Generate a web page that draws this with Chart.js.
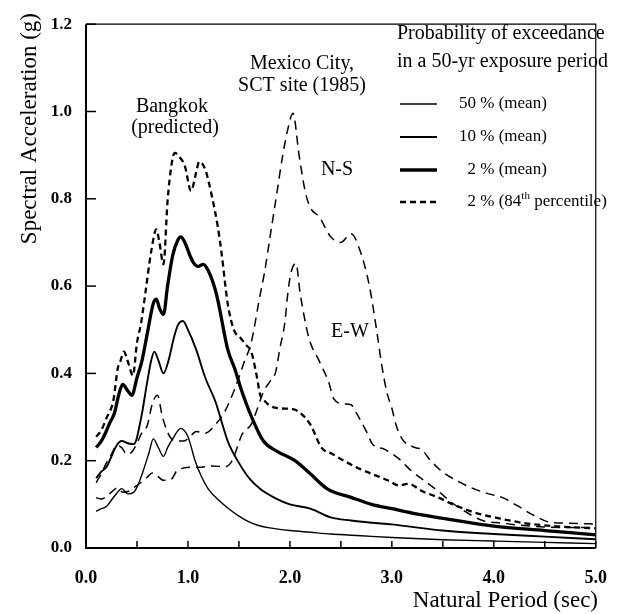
<!DOCTYPE html>
<html>
<head>
<meta charset="utf-8">
<script src="https://cdn.jsdelivr.net/npm/chart.js@4"></script>
<style>
    html, body { margin: 0; padding: 0; background: #fff; }
</style>
</head>
<body>
<canvas id="spectraChart" width="627" height="614"></canvas>
<script>
// Bangkok (predicted), probability of exceedance in 50 yr
const bkk50Period = [0.1, 0.15, 0.2, 0.25, 0.3, 0.35, 0.41, 0.47, 0.52, 0.57, 0.62, 0.66, 0.71, 0.76, 0.8, 0.85, 0.93, 1.0, 1.07, 1.13, 1.2, 1.3, 1.4, 1.5, 1.6, 1.7, 1.8, 2.0, 2.2, 2.4, 2.7, 3.0, 3.5, 4.0, 4.5, 5.0];
const bkk50Sa = [0.084, 0.09, 0.095, 0.11, 0.125, 0.136, 0.124, 0.128, 0.15, 0.183, 0.22, 0.25, 0.23, 0.21, 0.23, 0.25, 0.274, 0.255, 0.2, 0.165, 0.135, 0.11, 0.09, 0.073, 0.06, 0.051, 0.046, 0.04, 0.036, 0.032, 0.028, 0.024, 0.019, 0.016, 0.013, 0.01];

const bkk10Period = [0.1, 0.15, 0.2, 0.25, 0.3, 0.35, 0.41, 0.47, 0.54, 0.6, 0.64, 0.67, 0.71, 0.76, 0.81, 0.86, 0.9, 0.95, 1.0, 1.08, 1.17, 1.27, 1.39, 1.5, 1.6, 1.71, 1.85, 2.0, 2.2, 2.4, 2.6, 2.8, 3.0, 3.5, 4.0, 4.5, 5.0];
const bkk10Sa = [0.16, 0.175, 0.185, 0.21, 0.235, 0.245, 0.24, 0.238, 0.297, 0.38, 0.43, 0.45, 0.43, 0.40, 0.43, 0.48, 0.51, 0.52, 0.5, 0.455, 0.39, 0.335, 0.245, 0.195, 0.16, 0.135, 0.115, 0.10, 0.09, 0.07, 0.063, 0.058, 0.054, 0.04, 0.032, 0.026, 0.02];

const bkk2Period = [0.1, 0.15, 0.19, 0.23, 0.28, 0.32, 0.36, 0.41, 0.45, 0.5, 0.55, 0.6, 0.66, 0.69, 0.72, 0.76, 0.8, 0.85, 0.9, 0.93, 0.97, 1.02, 1.05, 1.1, 1.15, 1.2, 1.27, 1.3, 1.39, 1.46, 1.52, 1.63, 1.74, 1.87, 2.05, 2.2, 2.37, 2.6, 2.8, 3.0, 3.2, 3.5, 4.0, 4.5, 5.0];
const bkk2Sa = [0.23, 0.245, 0.263, 0.285, 0.31, 0.35, 0.375, 0.36, 0.35, 0.39, 0.43, 0.49, 0.56, 0.57, 0.55, 0.535, 0.6, 0.67, 0.705, 0.713, 0.7, 0.67, 0.655, 0.645, 0.65, 0.635, 0.59, 0.56, 0.455, 0.41, 0.365, 0.297, 0.245, 0.222, 0.2, 0.17, 0.135, 0.116, 0.1, 0.09, 0.08, 0.068, 0.05, 0.04, 0.03];

const bkk2p84Period = [0.1, 0.15, 0.2, 0.27, 0.31, 0.34, 0.37, 0.42, 0.46, 0.5, 0.54, 0.58, 0.64, 0.69, 0.72, 0.76, 0.8, 0.84, 0.87, 0.92, 0.97, 1.03, 1.08, 1.11, 1.17, 1.24, 1.29, 1.33, 1.39, 1.45, 1.52, 1.57, 1.62, 1.67, 1.71, 1.76, 1.81, 1.9, 2.03, 2.1, 2.2, 2.31, 2.42, 2.53, 2.65, 2.78, 2.97, 3.07, 3.16, 3.3, 3.45, 3.65, 3.83, 4.05, 4.3, 4.6, 5.0];
const bkk2p84Sa = [0.255, 0.27, 0.297, 0.34, 0.41, 0.43, 0.45, 0.42, 0.395, 0.47, 0.515, 0.58, 0.68, 0.73, 0.7, 0.65, 0.795, 0.88, 0.905, 0.895, 0.875, 0.818, 0.86, 0.885, 0.867, 0.8, 0.74, 0.675, 0.56, 0.5, 0.48, 0.465, 0.45, 0.4, 0.35, 0.335, 0.325, 0.32, 0.318, 0.31, 0.283, 0.23, 0.215, 0.2, 0.185, 0.172, 0.154, 0.143, 0.147, 0.13, 0.116, 0.095, 0.08, 0.068, 0.057, 0.05, 0.045];

// Mexico City, SCT site (1985)
const mexNSPeriod = [0.1, 0.15, 0.2, 0.25, 0.3, 0.35, 0.4, 0.45, 0.5, 0.55, 0.6, 0.65, 0.7, 0.75, 0.82, 0.9, 0.96, 1.02, 1.08, 1.17, 1.27, 1.36, 1.46, 1.55, 1.62, 1.7, 1.75, 1.81, 1.87, 1.93, 1.98, 2.03, 2.09, 2.15, 2.2, 2.29, 2.4, 2.5, 2.6, 2.69, 2.78, 2.85, 2.9, 2.95, 3.0, 3.04, 3.1, 3.23, 3.29, 3.38, 3.51, 3.64, 3.8, 3.95, 4.08, 4.23, 4.39, 4.55, 4.71, 5.0];
const mexNSSa = [0.15, 0.17, 0.195, 0.215, 0.235, 0.23, 0.215, 0.22, 0.24, 0.265, 0.28, 0.33, 0.35, 0.3, 0.256, 0.245, 0.245, 0.255, 0.267, 0.263, 0.283, 0.312, 0.365, 0.425, 0.47, 0.57, 0.63, 0.72, 0.81, 0.9, 0.96, 0.996, 0.9, 0.817, 0.78, 0.758, 0.713, 0.70, 0.72, 0.68, 0.6, 0.5, 0.42, 0.358, 0.32, 0.283, 0.25, 0.23, 0.226, 0.2, 0.172, 0.154, 0.136, 0.124, 0.116, 0.097, 0.075, 0.059, 0.057, 0.055];

const mexEWPeriod = [0.1, 0.15, 0.2, 0.25, 0.31, 0.36, 0.42, 0.48, 0.54, 0.6, 0.65, 0.7, 0.76, 0.84, 0.89, 0.95, 1.02, 1.1, 1.24, 1.36, 1.42, 1.46, 1.53, 1.62, 1.67, 1.74, 1.8, 1.86, 1.9, 1.95, 1.98, 2.01, 2.06, 2.1, 2.19, 2.28, 2.38, 2.43, 2.53, 2.6, 2.66, 2.75, 2.81, 2.93, 3.07, 3.19, 3.32, 3.45, 3.6, 3.73, 3.89, 4.08, 4.27, 4.5, 4.75, 5.0];
const mexEWSa = [0.115, 0.112, 0.118, 0.128, 0.138, 0.128, 0.13, 0.14, 0.15, 0.162, 0.172, 0.165, 0.155, 0.158, 0.177, 0.183, 0.185, 0.185, 0.188, 0.186, 0.195, 0.215, 0.26, 0.283, 0.312, 0.358, 0.38, 0.403, 0.455, 0.516, 0.584, 0.63, 0.652, 0.584, 0.478, 0.432, 0.38, 0.342, 0.33, 0.328, 0.306, 0.267, 0.238, 0.226, 0.204, 0.177, 0.154, 0.131, 0.102, 0.082, 0.063, 0.057, 0.052, 0.048, 0.047, 0.047];

// axes
const xTickValues = [0, 0.5, 1, 1.5, 2, 2.5, 3, 3.5, 4, 4.5, 5];
const xTickLabels = ['0.0', '', '1.0', '', '2.0', '', '3.0', '', '4.0', '', '5.0'];
const yTickValues = [0, 0.2, 0.4, 0.6, 0.8, 1.0, 1.2];
const yTickLabels = ['0.0', '0.2', '0.4', '0.6', '0.8', '1.0', '1.2'];

const legendTitle = ['Probability of exceedance', 'in a 50-yr exposure period'];
const legendLabels = ['50 % (mean)', '10 % (mean)', '2 % (mean)', '2 % (84th percentile)'];

const serif = "'Liberation Serif', 'Times New Roman', serif";
Chart.defaults.font.family = serif;
Chart.defaults.color = '#000';

function toPoints(periods, values) {
    return periods.map((t, i) => ({ x: t, y: values[i] }));
}

function line(label, periods, values, width, dash) {
    return {
        label: label,
        data: toPoints(periods, values),
        borderColor: '#000',
        backgroundColor: '#000',
        borderWidth: width,
        borderDash: dash,
        pointRadius: 0,
        fill: false,
        cubicInterpolationMode: 'monotone'
    };
}

// ticks inside the box, frame, notes and legend
const decorations = {
    id: 'decorations',
    afterDraw(chart) {
        const ctx = chart.ctx;
        const area = chart.chartArea;
        const xs = chart.scales.x;
        const ys = chart.scales.y;
        ctx.save();
        ctx.strokeStyle = '#000';

        // frame
        ctx.lineWidth = 1.2;
        ctx.beginPath();
        ctx.moveTo(area.left, area.top);
        ctx.lineTo(area.right, area.top);
        ctx.lineTo(area.right, area.bottom);
        ctx.stroke();
        ctx.lineWidth = 2;
        ctx.beginPath();
        ctx.moveTo(area.left, area.top);
        ctx.lineTo(area.left, area.bottom);
        ctx.lineTo(area.right, area.bottom);
        ctx.stroke();

        // inward tick marks
        ctx.lineWidth = 1.5;
        xTickValues.forEach(v => {
            const px = xs.getPixelForValue(v);
            ctx.beginPath();
            ctx.moveTo(px, area.bottom);
            ctx.lineTo(px, area.bottom - 7);
            ctx.stroke();
        });
        yTickValues.forEach(v => {
            const py = ys.getPixelForValue(v);
            ctx.beginPath();
            ctx.moveTo(area.left, py);
            ctx.lineTo(area.left + 10, py);
            ctx.stroke();
        });

        ctx.fillStyle = '#000';
        ctx.textBaseline = 'middle';

        // axis titles
        ctx.font = '23px ' + serif;
        ctx.textAlign = 'right';
        ctx.fillText('Natural Period (sec)', 598, 601);
        ctx.save();
        ctx.translate(30, 13);
        ctx.rotate(-Math.PI / 2);
        ctx.fillText('Spectral Acceleration (g)', 0, 0);
        ctx.restore();

        // curve notes
        ctx.font = '20px ' + serif;
        ctx.textAlign = 'center';
        ctx.fillText('Bangkok', 172, 107);
        ctx.fillText('(predicted)', 175, 128);
        ctx.fillText('Mexico City,', 302, 64);
        ctx.fillText('SCT site (1985)', 302, 86);
        ctx.fillText('N-S', 337, 170);
        ctx.fillText('E-W', 350, 332);

        // legend
        ctx.textAlign = 'left';
        ctx.font = '20px ' + serif;
        ctx.fillText(legendTitle[0], 397, 34);
        ctx.fillText(legendTitle[1], 397, 62);

        const rowY = [104, 137, 170, 202];
        ctx.font = '17px ' + serif;
        chart.data.datasets.slice(0, 4).forEach((ds, i) => {
            const y = rowY[i];
            ctx.lineWidth = ds.borderWidth;
            ctx.setLineDash(ds.borderDash || []);
            ctx.beginPath();
            ctx.moveTo(400, y);
            ctx.lineTo(437, y);
            ctx.stroke();
            ctx.setLineDash([]);

            const label = legendLabels[i];
            const num = label.split(' ')[0];
            let x = 476 - ctx.measureText(num).width;
            const sup = label.indexOf('th');
            if (sup > 0) {
                const a = label.slice(0, sup);
                const b = label.slice(sup + 2);
                ctx.fillText(a, x, y);
                x += ctx.measureText(a).width;
                ctx.font = '11px ' + serif;
                ctx.fillText('th', x, y - 6);
                x += ctx.measureText('th').width;
                ctx.font = '17px ' + serif;
                ctx.fillText(b, x, y);
            } else {
                ctx.fillText(label, x, y);
            }
        });
        ctx.restore();
    }
};

const chartElement = new Chart(document.getElementById('spectraChart'), {
    type: 'line',
    data: {
        datasets: [
            line('50 % (mean)', bkk50Period, bkk50Sa, 1.4, []),
            line('10 % (mean)', bkk10Period, bkk10Sa, 1.9, []),
            line('2 % (mean)', bkk2Period, bkk2Sa, 3.3, []),
            line('2 % (84th percentile)', bkk2p84Period, bkk2p84Sa, 2.3, [6, 4]),
            line('Mexico City N-S', mexNSPeriod, mexNSSa, 1.5, [9, 6]),
            line('Mexico City E-W', mexEWPeriod, mexEWSa, 1.5, [9, 6])
        ]
    },
    options: {
        responsive: false,
        animation: false,
        layout: { padding: { top: 18, right: 13, left: 0, bottom: 0 } },
        plugins: {
            legend: { display: false },
            tooltip: { enabled: false }
        },
        scales: {
            x: {
                type: 'linear',
                min: 0,
                max: 5,
                afterFit: s => { s.height = 66; },
                afterBuildTicks: s => { s.ticks = xTickValues.map(v => ({ value: v })); },
                grid: { display: false, drawTicks: false },
                border: { display: false },
                ticks: {
                    autoSkip: false,
                    maxRotation: 0,
                    padding: 20,
                    font: { size: 18, weight: 'bold' },
                    callback: (v, i) => xTickLabels[i]
                }
            },
            y: {
                type: 'linear',
                min: 0,
                max: 1.2,
                afterFit: s => { s.width = 86; },
                afterBuildTicks: s => { s.ticks = yTickValues.map(v => ({ value: v })); },
                grid: { display: false, drawTicks: false },
                border: { display: false },
                ticks: {
                    padding: 14,
                    font: { size: 17, weight: 'bold' },
                    callback: (v, i) => yTickLabels[i]
                }
            }
        }
    },
    plugins: [decorations]
});
</script>
</body>
</html>
